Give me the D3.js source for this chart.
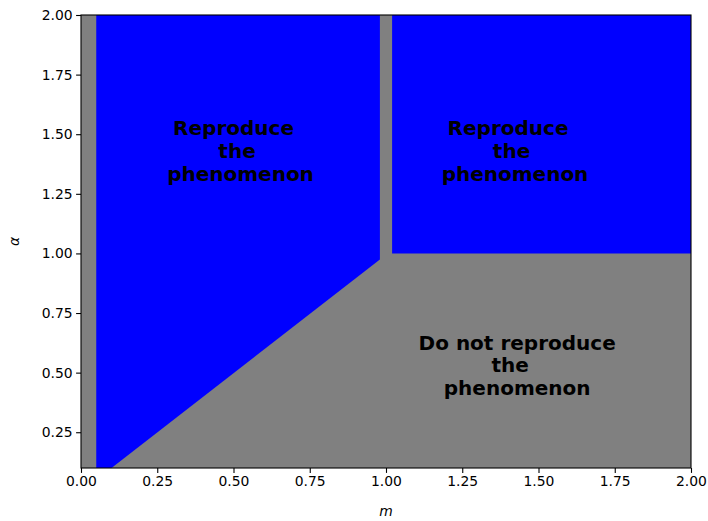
<!DOCTYPE html>
<html>
<head>
<meta charset="utf-8">
<script src="https://cdn.jsdelivr.net/npm/d3@7"></script>
<style>
  html, body { margin: 0; padding: 0; background: #fff; }
  svg { display: block; font-family: "DejaVu Sans", sans-serif; }
</style>
</head>
<body>
<svg id="chart" width="708" height="521"></svg>
<script>
// ---- data ----
const xDomain = [0, 2];
const yDomain = [0.1, 2];
const xTicks = [0, 0.25, 0.5, 0.75, 1.0, 1.25, 1.5, 1.75, 2.0];
const yTicks = [0.25, 0.5, 0.75, 1.0, 1.25, 1.5, 1.75, 2.0];
// blue regions ("reproduce the phenomenon"), vertices in (m, alpha)
const regionLeft = [[0.05, 0.1], [0.05, 2.0], [0.98, 2.0], [0.98, 0.975], [0.1, 0.1]];
const regionRight = [[1.02, 1.0], [1.02, 2.0], [2.0, 2.0], [2.0, 1.0]];
const regions = [regionLeft, regionRight];
const labelsLines = [
  { m: 0.523, a: 1.43, lines: ["Reproduce  ", "the ", "phenomenon"] },
  { m: 1.423, a: 1.43, lines: ["Reproduce  ", "the ", "phenomenon"] },
  { m: 1.43, a: 0.53, lines: ["Do not reproduce", "the  ", "phenomenon"] }
];

// ---- layout ----
const svg = d3.select("#chart");
const pL = 81, pR = 691, pT = 15, pB = 468;
const x = d3.scaleLinear().domain(xDomain).range([pL, pR]);
const y = d3.scaleLinear().domain(yDomain).range([pB, pT]);

// background grey
svg.append("rect")
  .attr("x", x(xDomain[0])).attr("y", y(yDomain[1]))
  .attr("width", x(xDomain[1]) - x(xDomain[0]))
  .attr("height", y(yDomain[0]) - y(yDomain[1]))
  .attr("fill", "#808080");

const line = d3.line().x(d => x(d[0])).y(d => y(d[1]));
svg.append("g").selectAll("path").data(regions).join("path")
  .attr("d", d => line(d) + "Z")
  .attr("fill", "#0000ff");

// annotations
const lh = 22.8;
labelsLines.forEach(lbl => {
  const t = svg.append("text")
    .attr("text-anchor", "middle")
    .attr("font-weight", "bold")
    .attr("font-size", 20)
    .attr("fill", "#000")
    .style("white-space", "pre");
  const n = lbl.lines.length;
  lbl.lines.forEach((s, i) => {
    t.append("tspan")
      .attr("x", x(lbl.m))
      .attr("y", y(lbl.a) + (i - (n - 1) / 2) * lh + 7)
      .text(s);
  });
});

// axes
const xAxis = d3.axisBottom(x).tickValues(xTicks).tickFormat(d3.format(".2f")).tickSize(4.9).tickPadding(3.5);
const yAxis = d3.axisLeft(y).tickValues(yTicks).tickFormat(d3.format(".2f")).tickSize(4.9).tickPadding(3.5);
const gx = svg.append("g").attr("transform", `translate(0,${pB})`).call(xAxis);
const gy = svg.append("g").attr("transform", `translate(${pL},0)`).call(yAxis);
[gx, gy].forEach(g => {
  g.select(".domain").remove();
  g.selectAll("line").attr("stroke", "#000").attr("stroke-width", 1.1);
  g.selectAll("text").attr("font-size", 13.9).attr("fill", "#000").attr("font-family", "DejaVu Sans");
});

// frame
svg.append("rect")
  .attr("x", pL).attr("y", pT)
  .attr("width", pR - pL).attr("height", pB - pT)
  .attr("fill", "none").attr("stroke", "#000").attr("stroke-width", 1.1);

// axis labels
svg.append("text")
  .attr("x", (pL + pR) / 2).attr("y", 516)
  .attr("text-anchor", "middle").attr("font-size", 13.9).attr("font-style", "italic")
  .text("m");
svg.append("text")
  .attr("transform", `translate(19,${(pT + pB) / 2}) rotate(-90)`)
  .attr("text-anchor", "middle").attr("font-size", 13.9).attr("font-style", "italic")
  .text("α");
</script>
</body>
</html>
